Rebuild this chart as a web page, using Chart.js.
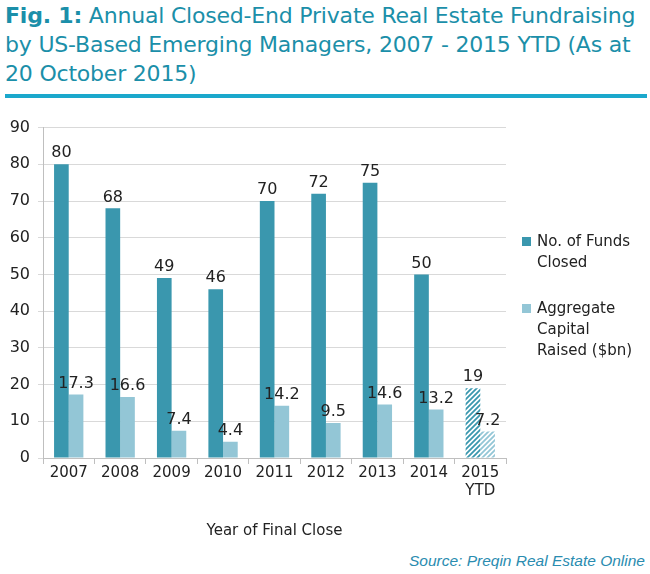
<!DOCTYPE html>
<html>
<head>
<meta charset="utf-8">
<script src="https://cdn.jsdelivr.net/npm/chart.js@4.4.1/dist/chart.umd.min.js"></script>
<style>
  body { margin: 0; width: 650px; height: 574px; background: #fff; position: relative; overflow: hidden; font-family: 'DejaVu Sans', sans-serif; }
  #title { position: absolute; left: 5px; top: 1px; width: 645px; color: #1b8fa9; font-size: 22px; line-height: 29px; letter-spacing: -0.2px; white-space: nowrap; }
  #title b { font-weight: bold; }
  #rule { position: absolute; left: 5px; top: 94px; width: 642px; height: 4px; background: #1ba8cc; }
  #chartBox { position: absolute; left: 0; top: 110px; width: 650px; height: 440px; }
  #legend { position: absolute; left: 522px; top: 231px; font-size: 15px; line-height: 21px; color: #222; }
  .leg-item { position: relative; padding-left: 15px; margin-bottom: 25px; }
  .leg-box { position: absolute; left: 0; top: 6px; width: 9px; height: 9px; }
  #source { position: absolute; right: 5px; top: 552px; font-family: 'Liberation Sans', Arial, sans-serif; font-style: italic; font-size: 15.5px; color: #2a8cb0; }
</style>
</head>
<body>
<div id="title"><b>Fig. 1:</b> Annual Closed-End Private Real Estate Fundraising<br>by US-Based Emerging Managers, 2007 - 2015 YTD (As at<br>20 October 2015)</div>
<div id="rule"></div>
<div id="chartBox"><canvas id="chart"></canvas></div>
<div id="legend"></div>
<div id="source">Source: Preqin Real Estate Online</div>
<script>
const categories = [['2007'], ['2008'], ['2009'], ['2010'], ['2011'], ['2012'], ['2013'], ['2014'], ['2015', 'YTD']];
const fundsClosed = [80, 68, 49, 46, 70, 72, 75, 50, 19];
const capitalRaised = [17.3, 16.6, 7.4, 4.4, 14.2, 9.5, 14.6, 13.2, 7.2];
const seriesNames = [['No. of Funds', 'Closed'], ['Aggregate', 'Capital', 'Raised ($bn)']];
const yTicks = [0, 10, 20, 30, 40, 50, 60, 70, 80, 90];
const ytdIndex = 8;

const darkColor = '#3a97ae';
const lightColor = '#93c6d6';

function hatch(color) {
  const c = document.createElement('canvas');
  c.width = 5; c.height = 5;
  const g = c.getContext('2d');
  g.fillStyle = '#fff';
  g.fillRect(0, 0, 5, 5);
  g.strokeStyle = color;
  g.lineWidth = 1.8;
  g.beginPath();
  g.moveTo(-1, 6); g.lineTo(6, -1);
  g.moveTo(-1, 1); g.lineTo(1, -1);
  g.moveTo(4, 6); g.lineTo(6, 4);
  g.stroke();
  return g.createPattern(c, 'repeat');
}

function colorsFor(values, color) {
  return values.map((v, i) => i === ytdIndex ? hatch(color) : color);
}

const valueLabels = {
  id: 'valueLabels',
  afterDatasetsDraw(chart) {
    const { ctx } = chart;
    ctx.save();
    ctx.font = '16px "DejaVu Sans", sans-serif';
    ctx.fillStyle = '#222';
    ctx.textAlign = 'center';
    ctx.textBaseline = 'bottom';
    chart.data.datasets.forEach((ds, di) => {
      chart.getDatasetMeta(di).data.forEach((bar, i) => {
        ctx.fillText(String(ds.data[i]), bar.x, bar.y - 3);
      });
    });
    ctx.restore();
  }
};

new Chart(document.getElementById('chart'), {
  type: 'bar',
  data: {
    labels: categories,
    datasets: [
      { label: seriesNames[0].join(' '), data: fundsClosed, backgroundColor: colorsFor(fundsClosed, darkColor) },
      { label: seriesNames[1].join(' '), data: capitalRaised, backgroundColor: colorsFor(capitalRaised, lightColor) },
    ]
  },
  options: {
    responsive: true,
    maintainAspectRatio: false,
    animation: false,
    datasets: { bar: { categoryPercentage: 0.57, barPercentage: 1 } },
    layout: { padding: { top: 8, right: 144, left: 0, bottom: 0 } },
    plugins: { legend: { display: false }, tooltip: { enabled: false } },
    scales: {
      x: {
        grid: { display: true, drawOnChartArea: false, offset: true, color: '#bfbfbf', tickLength: 6 },
        border: { color: '#bfbfbf' },
        ticks: { color: '#222', font: { size: 15, family: 'DejaVu Sans' }, padding: 0 },
        title: { display: true, text: 'Year of Final Close', color: '#222', font: { size: 15, family: 'DejaVu Sans' }, padding: { top: 14, bottom: 10 } },
        afterFit(scale) { scale.height = 92; }
      },
      y: {
        min: 0, max: 90,
        afterBuildTicks(scale) { scale.ticks = yTicks.map(v => ({ value: v })); },
        grid: { color: '#d9d9d9', tickLength: 5 },
        border: { color: '#bfbfbf' },
        ticks: { color: '#222', font: { size: 16, family: 'DejaVu Sans' }, padding: 8 },
        afterFit(scale) { scale.width = 43; }
      }
    }
  },
  plugins: [valueLabels]
});

document.getElementById('legend').innerHTML = seriesNames.map((lines, i) => `
  <div class="leg-item"><span class="leg-box" style="background:${i === 0 ? darkColor : lightColor}"></span>${lines.join('<br>')}</div>
`).join('');
</script>
</body>
</html>
